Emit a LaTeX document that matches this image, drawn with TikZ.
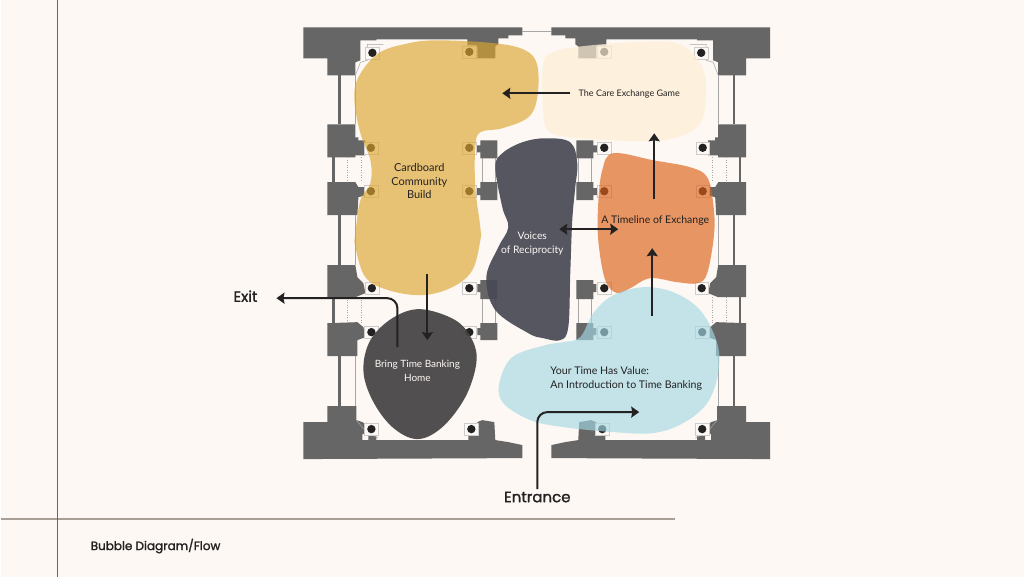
\documentclass[tikz,border=0pt]{standalone}
\usepackage{fontspec}
\setmainfont{Lato}
\newfontfamily\headfont[FakeBold=1.4]{Poppins}
\usetikzlibrary{arrows.meta}
\definecolor{paper}{RGB}{253,248,243}
\definecolor{wallgray}{RGB}{102,102,102}
\definecolor{inkdark}{RGB}{35,33,34}
\definecolor{rulegray}{RGB}{168,160,151}
\definecolor{yellowblob}{RGB}{221,166,48}
\definecolor{creamblob}{RGB}{254,237,213}
\definecolor{slateblob}{RGB}{74,74,86}
\definecolor{orangeblob}{RGB}{218,97,23}
\definecolor{blueblob}{RGB}{164,217,228}
\definecolor{homeblob}{RGB}{70,67,69}
% left half of the plan, also drawn mirrored
\newcommand{\halfplan}{%
  \fill[wall] (303,27) -- (522,27) -- (522,35) -- (508,35) -- (508,38) -- (498,38) -- (498,44) -- (495,46) -- (495,58) -- (477,58) -- (477,46) -- (476,46) -- (476,45) -- (467,45) -- (467,39) -- (376,39) -- (376,40) -- (360,40) -- (360,60) -- (355,62) -- (355,75) -- (327,75) -- (327,58) -- (303,58) -- cycle;
  \fill[wall] (327,124) -- (355,124) -- (355,137) -- (358,137) -- (358,140) -- (365,140) -- (365,155) -- (355,155) -- (355,157) -- (327,157) -- cycle;
  \fill[wall] (327,182) -- (355,182) -- (358,187) -- (365,187) -- (365,195) -- (358,197) -- (357,215) -- (327,215) -- cycle;
  \fill[wall] (327,265) -- (355,265) -- (357,277) -- (363,283) -- (365,293) -- (355,297) -- (327,297) -- cycle;
  \fill[wall] (327,323) -- (357,322) -- (363,327) -- (365,337) -- (357,340) -- (357,356) -- (327,356) -- cycle;
  \fill[wall] (303,422) -- (327,422) -- (327,406) -- (356,406) -- (356,420) -- (362,422) -- (366,425) -- (366,433) -- (362,434) -- (362,440) -- (368,440) -- (368,434) -- (376,434) -- (376,440) -- (468,440) -- (468,434) -- (477,434) -- (477,422) -- (482,420) -- (494,422) -- (495,440) -- (508,442) -- (522,445) -- (522,458) -- (303,459) -- cycle;
  % inner piers
  \fill[wall] (476,145) -- (480,145) -- (480,140) -- (497,140) -- (497,158) -- (480,158) -- (480,152) -- (476,152) -- cycle;
  \fill[wall] (476,188) -- (480,188) -- (480,182) -- (497,182) -- (497,200) -- (480,200) -- (480,195) -- (476,195) -- cycle;
  \fill[wall] (477,284) -- (480,284) -- (480,280) -- (497,280) -- (497,299) -- (480,299) -- (480,292) -- (477,292) -- cycle;
  \fill[wall] (477,328) -- (480,328) -- (480,323) -- (497,323) -- (497,340) -- (480,340) -- (480,335) -- (477,335) -- cycle;
  % side walls
  \draw[sidewall] (339,75) -- (339,124);
  \draw[sidewall] (339,215) -- (339,265);
  \draw[sidewall] (339,356) -- (339,406);
  \draw[sidewall] (333,157) -- (333,182);
  \draw[sidewall] (333,297) -- (333,323);
  \draw[thinwall, dotted] (347,157) -- (347,182);
  \draw[thinwall, dotted] (361,157) -- (361,182);
  \draw[thinwall, dotted] (347,297) -- (347,323);
  \draw[thinwall, dotted] (361,297) -- (361,323);
  % inner outline
  \draw[thinwall] (355,75) -- (355,124);
  \draw[thinwall] (355,215) -- (355,265);
  \draw[thinwall] (355,356) -- (355,406);
  \draw[thinwall] (482,158) -- (482,182);
  \draw[thinwall] (495,158) -- (495,182);
  \draw[thinwall] (482,299) -- (482,323);
  \draw[thinwall] (495,299) -- (495,323);
  \draw[thinwall] (355,75) -- (360,62) -- (367,60) -- (367,44) -- (383,44);
  \draw[thinwall] (356,420) -- (366,432) -- (378,438);
  % column dots
  \foreach \dotx/\doty in {372/52.5,469/51.5,370.5/147.5,469/147.5,370.5/191,469/191,371.5/288,469/288,371/332,469/332,371/429,471/429}{
    \draw[gray!40, line width=0.4pt, fill=paper] (\dotx-7,\doty-6) rectangle (\dotx+7,\doty+6);
    \fill[inkdark] (\dotx,\doty) circle (4.2);
  }
}
\begin{document}
\begin{tikzpicture}[
    x=1pt,
    y=-1pt,
    every node/.style={font=\fontsize{10.5}{14}\selectfont, inner sep=0pt, align=center},
    wall/.style={wallgray},
    sidewall/.style={wallgray, line width=2.6pt},
    thinwall/.style={gray!70, line width=0.5pt},
    bubble/.style={fill opacity=0.65},
    flowarrow/.style={-{Stealth[length=8pt,width=11pt,inset=1pt]}, inkdark, line width=2pt},
    elbowarrow/.style={flowarrow, rounded corners=10pt},
    planlabel/.style={text=inkdark},
    headlabel/.style={font=\headfont\fontsize{15}{18}\selectfont, text=inkdark}
  ]
  \fill[paper] (0,0) rectangle (1024,577);

  % page rules
  \coordinate (ruletop) at (57,0);
  \coordinate (rulebottom) at (57,577);
  \coordinate (ruleleft) at (0,519);
  \coordinate (ruleright) at (675,519);
  \draw[rulegray, line width=1.2pt] (ruleleft) -- (ruleright);
  \draw[wallgray, line width=0.7pt] (ruletop) -- (rulebottom);
  \node[headlabel, anchor=west, font=\headfont\fontsize{12}{14}\selectfont] (caption) at (90,546) {Bubble Diagram/Flow};

  % plan
  \halfplan
  \begin{scope}[xshift=1073pt, xscale=-1]
    \halfplan
  \end{scope}
  \draw[thinwall] (522,31) -- (551,31);

  % bubbles
  \fill[yellowblob, bubble] plot[smooth cycle, tension=0.6] coordinates {(438,40) (495,43) (525,50) (537,65) (537,97) (528,117) (502,128) (480,132) (475,147) (475,187) (480,227) (480,240) (472,270) (452,287) (422,295) (388,290) (365,277) (355,247) (355,233) (360,200) (370,183) (370,160) (360,133) (354,100) (358,77) (378,53) (408,43)};
  \fill[creamblob, fill opacity=0.7] plot[smooth cycle, tension=0.6] coordinates {(573,47) (630,42) (677,43) (700,63) (706,90) (700,123) (677,137) (643,141) (580,138) (550,132) (543,113) (543,63) (553,52)};
  \fill[orangeblob, bubble] plot[smooth cycle, tension=0.6] coordinates {(613,153) (653,160) (690,167) (707,177) (713,203) (714,233) (707,273) (697,283) (677,282) (650,278) (630,288) (617,293) (605,280) (598,240) (598,203) (602,170)};
  \fill[blueblob, bubble] plot[smooth cycle, tension=0.6] coordinates {(643,287) (673,292) (700,310) (717,343) (718,373) (707,403) (683,423) (653,433) (613,432) (563,427) (530,420) (503,403) (499,383) (512,357) (545,345) (563,342) (580,337) (593,313) (613,295)};
  \fill[slateblob, fill opacity=0.93] plot[smooth cycle, tension=0.6] coordinates {(545,138) (570,142) (577,163) (575,187) (572,220) (570,273) (568,327) (560,340) (543,338) (528,333) (495,310) (486,277) (498,247) (508,227) (502,207) (495,167) (502,153) (522,142)};
  \fill[homeblob, fill opacity=0.93] plot[smooth cycle, tension=0.6] coordinates {(420,309) (455,320) (472,340) (476,363) (465,397) (442,427) (417,439) (392,427) (372,400) (363,370) (370,340) (392,318)};

  % room labels
  \node[planlabel, font=\fontsize{11}{13.5}\selectfont] (cardboard) at (419,181) {Cardboard\\Community\\Build};
  \node[planlabel, font=\fontsize{9}{14}\selectfont] (careGame) at (629,94) {The Care Exchange Game};
  \node[planlabel] (timeline) at (655,220) {A Timeline of Exchange};
  \node[text=paper, font=\fontsize{10.3}{14}\selectfont] (voices) at (532,243) {Voices\\of Reciprocity};
  \node[text=paper, font=\fontsize{10}{14}\selectfont] (home) at (417,371) {Bring Time Banking\\Home};
  \node[planlabel, align=left, anchor=west, font=\fontsize{10.6}{14}\selectfont] (timeValue) at (550,378) {Your Time Has Value:\\An Introduction to Time Banking};
  \node[headlabel] (exit) at (245,296) {Exit};
  \node[headlabel] (entrance) at (537,497) {Entrance};

  % flow
  \coordinate (careTail) at (570,93);
  \coordinate (careHead) at (502,93);
  \coordinate (timelineTail) at (654,199);
  \coordinate (timelineHead) at (654,133);
  \coordinate (voicesLeft) at (559,229);
  \coordinate (voicesRight) at (618,229);
  \coordinate (valueTail) at (652,316);
  \coordinate (valueHead) at (652,248);
  \coordinate (buildTail) at (427,274);
  \coordinate (buildHead) at (427,340);
  \coordinate (homeTail) at (397,347);
  \coordinate (exitCorner) at (397,298);
  \coordinate (exitHead) at (276,298);
  \coordinate (entryTail) at (537,489);
  \coordinate (entryCorner) at (537,412);
  \coordinate (entryHead) at (639,412);

  \draw[flowarrow] (careTail) -- (careHead);
  \draw[flowarrow] (timelineTail) -- (timelineHead);
  \draw[flowarrow, {Stealth[length=8pt,width=11pt,inset=1pt]}-{Stealth[length=8pt,width=11pt,inset=1pt]}] (voicesLeft) -- (voicesRight);
  \draw[flowarrow] (valueTail) -- (valueHead);
  \draw[flowarrow] (buildTail) -- (buildHead);
  \draw[elbowarrow] (homeTail) -- (exitCorner) -- (exitHead);
  \draw[elbowarrow] (entryTail) -- (entryCorner) -- (entryHead);
\end{tikzpicture}
\end{document}
